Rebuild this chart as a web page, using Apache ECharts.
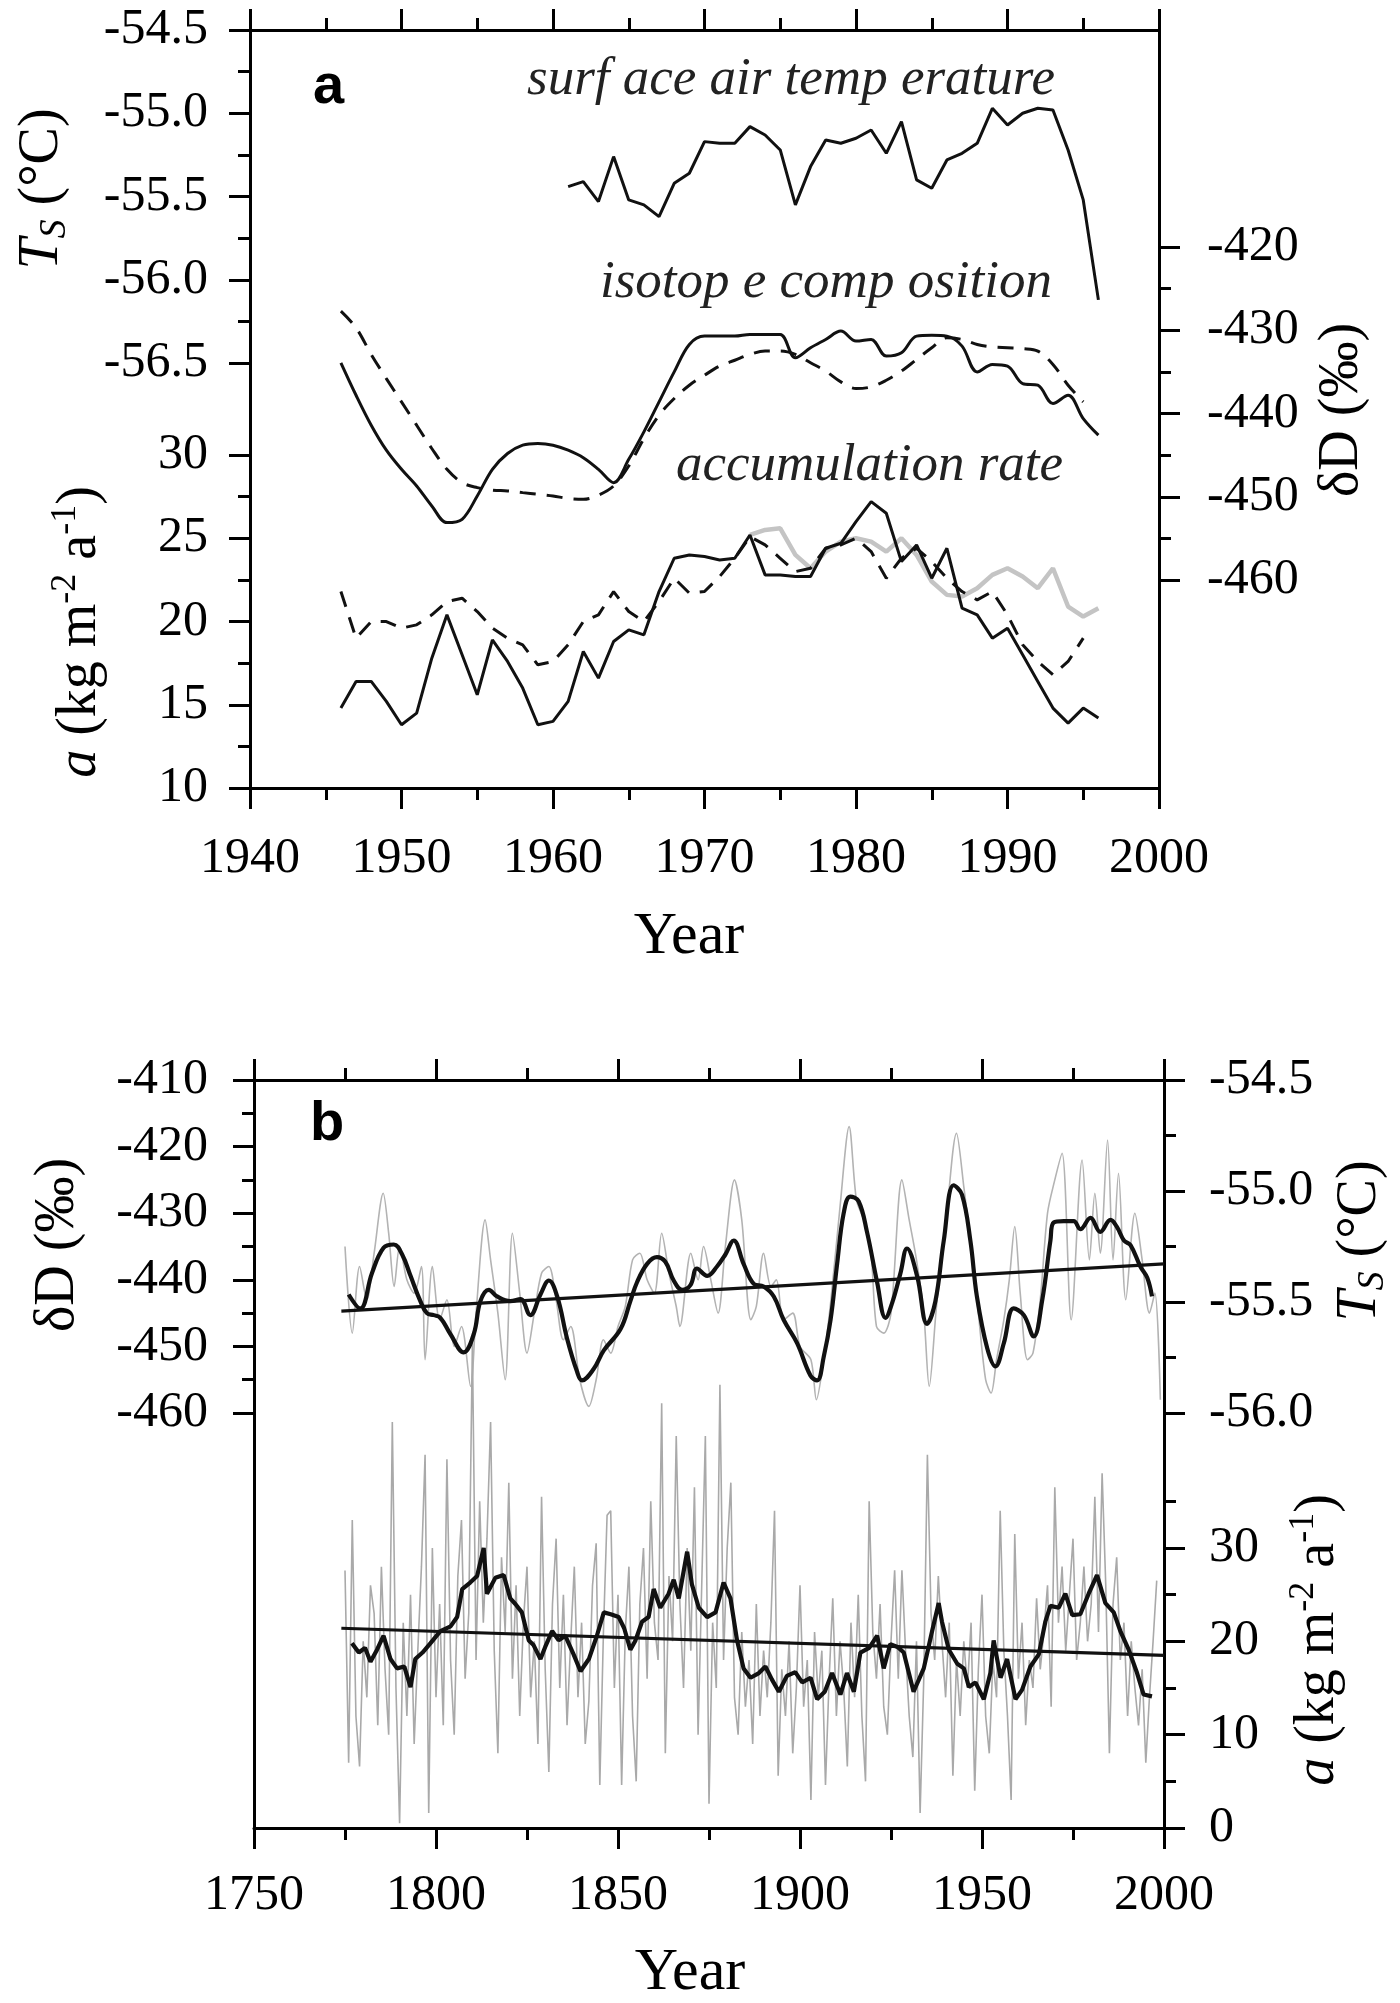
<!DOCTYPE html>
<html><head><meta charset="utf-8">
<script src="https://cdn.jsdelivr.net/npm/echarts@6/dist/echarts.min.js"></script>
<style>html,body{margin:0;padding:0;background:#fff}#c{width:1400px;height:2003px}</style>
</head><body><div id="c"></div>
<script>
// ---------- Panel a data ----------
const tsStartYear = 1961;
const tsValues = [-55.44,-55.41,-55.53,-55.26,-55.52,-55.55,-55.62,-55.42,-55.36,-55.17,-55.18,-55.18,-55.08,-55.13,-55.22,-55.55,-55.32,-55.16,-55.18,-55.15,-55.10,-55.24,-55.05,-55.40,-55.45,-55.28,-55.24,-55.18,-54.97,-55.07,-55.00,-54.97,-54.98,-55.22,-55.52,-56.12];
const isoStartYear = 1946;
const isoSolid = [-433.9,-437.8,-441.4,-444.4,-446.7,-448.7,-451.1,-453.1,-452.7,-449.9,-446.7,-444.8,-443.8,-443.6,-443.8,-444.4,-445.3,-446.7,-448.3,-445.5,-442.2,-438.6,-435.0,-431.7,-430.7,-430.7,-430.7,-430.5,-430.5,-430.5,-433.3,-432.1,-431.1,-430.1,-431.3,-431.1,-433.1,-432.7,-430.7,-430.6,-430.7,-431.9,-435.0,-434.1,-434.3,-436.4,-436.6,-438.8,-437.8,-440.6,-442.6];
const isoDashed = [-427.7,-429.7,-432.9,-435.8,-438.6,-441.4,-444.2,-446.7,-448.3,-448.9,-449.2,-449.3,-449.5,-449.7,-449.9,-450.2,-450.3,-449.8,-448.7,-446.3,-443.0,-440.2,-438.2,-436.6,-435.4,-434.3,-433.6,-432.9,-432.5,-432.5,-432.9,-433.9,-434.9,-436.2,-437.0,-436.8,-436.0,-434.9,-433.5,-432.1,-430.9,-431.1,-431.7,-432.0,-432.1,-432.2,-432.5,-434.1,-436.6,-438.6];
const accStartYear = 1946;
const accSolid = [14.8,16.4,16.4,15.2,13.8,14.5,17.8,20.4,18.0,15.6,18.9,17.6,16.0,13.8,14.0,15.2,18.2,16.6,18.8,19.5,19.2,21.8,23.8,24.0,23.9,23.7,23.8,25.2,22.8,22.8,22.7,22.7,24.4,24.7,26.0,27.2,26.5,23.6,24.6,22.6,24.4,20.8,20.4,19.0,19.6,18.0,16.4,14.8,13.9,14.8,14.2];
const accDashed = [21.8,19.0,20.0,20.0,19.6,19.8,20.4,21.2,21.4,20.6,19.6,19.0,18.6,17.4,17.6,18.6,20.0,20.4,21.8,20.6,20.0,21.2,22.6,21.7,21.8,22.7,23.8,25.1,24.6,23.8,23.0,23.2,24.4,24.6,25.0,24.2,22.6,23.8,24.4,23.6,22.6,21.8,21.3,21.8,20.4,18.6,17.6,16.8,17.6,19.0];
const accGreyStartYear = 1973;
const accGrey = [25.2,25.5,25.6,24.0,23.2,24.2,24.8,25.0,24.8,24.2,25.0,24.0,22.4,21.6,21.5,22.0,22.8,23.2,22.7,22.0,23.2,20.9,20.3,20.8];

// ---------- Panel b data ----------
const bDdAnnYears = [1775,1777,1779,1781,1783,1785.5,1787,1788.5,1790,1792,1794,1796,1797,1799,1801,1803,1805,1807,1809.5,1811,1813.5,1815,1817,1819,1821,1823,1825,1827,1829,1831,1833,1835,1837,1839.5,1842,1844,1846,1848,1850,1852,1854,1856,1858,1860,1862,1864,1866,1867,1870,1872,1873.5,1875.5,1877.5,1879.5,1882,1884,1886.5,1888,1890,1892,1893.5,1895.5,1898,1900,1903,1904.5,1906.5,1908.5,1911,1913.5,1915.5,1917.5,1919.5,1921,1923,1925,1928,1930,1932,1934,1935.5,1937.5,1940,1943,1945,1947,1949,1951,1952.5,1954,1956,1957.5,1959,1960.5,1962.5,1964,1966,1968,1970,1972,1974.5,1977.5,1979.5,1981,1982.5,1984.5,1986,1987.5,1989.5,1992,1994,1996,1997.5,1999];
const bDdAnnVals = [-435,-448,-438,-443,-436,-427,-433,-441,-435,-440,-442,-438,-452,-438,-446,-443,-450,-447,-456,-445,-431,-437,-445,-455,-433,-442,-451,-445,-439,-438,-443,-449,-447,-455,-459,-455,-449,-451,-447,-444,-437,-436,-440,-442,-433,-439,-444,-447,-436,-440,-435,-440,-445,-435,-425,-431,-446,-444,-436,-441,-440,-446,-445,-450,-452,-458,-452,-443,-429,-417,-428,-431,-436,-447,-448,-445,-425,-431,-437,-445,-456,-444,-432,-418,-426,-435,-445,-455,-457,-452,-446,-440,-432,-442,-452,-451,-443,-430,-425,-421,-446,-422,-437,-427,-436,-419,-437,-424,-443,-430,-437,-445,-442,-458];
const bDdSmoothYears = [1776,1779.2,1782.4,1785.6,1788.4,1790.7,1793,1795.7,1797.5,1799.4,1801.2,1803.9,1807.6,1810.4,1812.2,1814.5,1816.8,1820.4,1823.2,1825.9,1828.7,1831,1833.3,1836,1838.7,1840.1,1843.3,1846.1,1850.7,1853.4,1855.2,1858,1860.7,1863,1865.3,1867.6,1869.9,1871.7,1874.5,1877.2,1879.5,1881.8,1884.5,1887.3,1890,1892.8,1895.5,1899.2,1902.9,1904.7,1906.5,1908.4,1910.2,1912,1913.8,1916.1,1918.4,1921.2,1923.5,1925.3,1927.6,1929.4,1932.2,1934.9,1937.2,1939.5,1942.2,1944.5,1946.8,1948.6,1951.4,1953.7,1956,1958.7,1961.5,1964.2,1966.5,1968.8,1969.7,1972.5,1975.2,1977,1979.8,1982.5,1985.3,1987.1,1989,1990.8,1993.5,1995.4,1996.7];
const bDdSmoothVals = [-442.2,-444.3,-439.0,-435.2,-434.7,-436.2,-439.4,-443.2,-445.0,-445.3,-445.7,-448.1,-450.9,-448.1,-443.2,-441.5,-442.5,-443.2,-442.9,-445.3,-442.2,-440.1,-442.5,-448.8,-453.7,-455.1,-453.4,-450.6,-447.4,-443.2,-440.4,-437.6,-436.6,-437.3,-440.1,-441.5,-440.8,-438.3,-439.4,-438.0,-436.2,-434.1,-437.6,-440.6,-441.0,-442.5,-446.0,-449.5,-454.4,-455.1,-451.6,-446.0,-437.6,-430.0,-427.5,-428.2,-432.8,-440.4,-445.7,-443.5,-439.0,-435.3,-439.5,-446.6,-443.2,-434.1,-425.8,-427.2,-434.1,-442.5,-450.2,-453.0,-449.5,-444.3,-445.3,-448.5,-443.2,-434.1,-431.4,-431.2,-431.2,-432.4,-430.7,-432.8,-431.0,-432.1,-434.1,-434.8,-438.0,-439.7,-442.5];
const bDdTrendYears = [1774, 2000];
const bDdTrendVals = [-444.7, -437.6];

const bAccAnnStartYear = 1775;
const bAccAnnVals = [
 27.6,7,33,12,6.6,20,14,26,23,11,
 28,17,10,43.5,15,0.5,22,12,25,9,
 19,28,40,1.6,30,14,24,11,39.5,18,
 10,27,33,16,23,52,18,35,22,31,
 43.5,19,8,29,21,37,16,26,12,22,
 28,14,20,9,35.5,17,6,24,31,15,
 25,11,20,28,14,22,9,13.6,26,30.5,
 4.6,21,33.5,34,15,25,4.6,21,28,12,
 5,24,30,16,35,22,18,45.5,8,27,
 20,42,24,15,30,19,36.5,10,26,42,
 2.6,22,15,47.5,18,30,37,14,10,21,
 13,18,9,24,12,19,14,22,34,5.6,
 17,12,20,8,15,26,13,18,3,21,
 14,19,4.6,16,24.6,12,20,15,6.6,22,
 14,25,12,5,35,21,16,24,13,10,
 20,27.6,16,27.6,19,12,7.6,20,1.6,16,
 40,23,18,27,20,14,22,5.6,18,12,
 20,15,22,4,17,25,12,8,18,14,
 34,19,12,3,31.5,16,22,11,18,15,
 24.6,17,21,26,13,36.5,22,28,19,25,
 31,18,22,28,20,24,35.5,21,38,26,
 8,24,29,18,22,12,20,15,11,17,
 7,14,20,26.5];
const bAccSmoothYears = [1776.9,1778.8,1780.5,1782,1783.8,1785.6,1787.5,1789.3,1791.3,1793,1794.3,1796.3,1798.5,1801.2,1804,1805.8,1807.2,1809.4,1811.3,1813.1,1814,1816.3,1818.6,1820.4,1821.8,1823.6,1825.5,1826.8,1828.7,1830,1831.9,1833.7,1835.5,1837.8,1839.7,1842,1844.2,1846.1,1848,1850.2,1851.7,1853.4,1854.8,1856.6,1858.4,1859.8,1861.6,1863.9,1865.3,1866.7,1869,1870.3,1872.2,1874.5,1876.8,1879,1880.9,1882.7,1884.5,1886.4,1888.7,1890.5,1892.3,1894.2,1896.4,1898.7,1900.6,1902.9,1904.7,1906.8,1908.8,1911.1,1912.9,1914.8,1916.6,1919,1921.2,1923,1924.8,1926.8,1928.5,1931.2,1934,1936.3,1938.1,1939,1940.9,1943.2,1945,1946.4,1948.2,1950.5,1952.3,1953.2,1955.1,1956.9,1959.2,1961,1963.3,1965.6,1967.4,1968.8,1971.1,1972.9,1974.8,1977,1979.3,1981.6,1983.9,1986.2,1988,1990.3,1992.6,1994.4,1996.7];
const bAccSmoothVals = [19.8,18.8,19.3,17.8,19.1,20.6,18.1,17.1,17.3,15.1,18.1,18.8,19.8,21.1,21.6,22.6,25.6,26.3,27.0,30.0,25.1,26.8,27.1,24.6,24.0,23.1,20.1,19.6,18.1,19.4,21.1,20.1,20.6,18.6,16.8,18.1,20.6,23.1,22.9,22.6,21.4,19.1,20.1,22.1,22.6,25.6,23.6,25.1,26.6,24.6,29.6,26.1,23.6,22.6,23.1,26.3,24.6,20.1,17.1,16.1,16.6,17.3,15.9,14.6,16.3,16.7,15.6,16.1,13.8,14.6,16.6,14.3,16.6,14.6,18.8,19.3,20.6,17.1,19.7,19.4,18.8,14.6,17.1,21.1,24.1,22.1,19.1,17.6,17.1,15.1,15.6,13.8,16.6,20.1,16.1,18.1,13.8,14.8,17.3,18.6,22.1,23.8,23.6,25.1,22.8,22.9,25.1,27.1,24.1,23.1,21.1,19.1,16.6,14.3,14.1];
const bAccTrendYears = [1774, 2000];
const bAccTrendVals = [21.4, 18.5];

// ---------- Tick label values ----------
const aTsTicks = [-54.5,-55.0,-55.5,-56.0,-56.5];
const aTsMinor = [-54.75,-55.25,-55.75,-56.25];
const aAccTicks = [10,15,20,25,30];
const aAccMinor = [12.5,17.5,22.5,27.5];
const aDdTicks = [-420,-430,-440,-450,-460];
const aDdMinor = [-425,-435,-445,-455];
const bDdTicks = [-410,-420,-430,-440,-450,-460];
const bDdMinor = [-415,-425,-435,-445,-455];
const bTsTicks = [-54.5,-55.0,-55.5,-56.0];
const bTsMinor = [-54.75,-55.25,-55.75];
const bAccTicks = [0,10,20,30];
const bAccMinor = [5,15,25,35];

// ---------- helpers ----------
const serif = "'Liberation Serif','Times New Roman',serif";
const seq = (start, vals) => vals.map((v, i) => [start + i, v]);
const zip = (xs, ys) => xs.map((x, i) => [x, ys[i]]);
const LW = 3;
const lineStyleAxis = {color:'#000', width:LW};
const TICKFONT = 50;

function xAx(grid, pos, min, max, interval, showLabel, margin) {
  return {type:'value', gridIndex:grid, position:pos, min, max, interval,
    axisLine:{show:true, onZero:false, lineStyle:lineStyleAxis},
    axisTick:{show:true, length:21, lineStyle:{color:'#000', width:LW}},
    minorTick:{show:true, splitNumber:2, length:12, lineStyle:{color:'#000', width:LW}},
    splitLine:{show:false}, minorSplitLine:{show:false},
    axisLabel:{show:showLabel, formatter: v => String(v), fontFamily:serif, fontSize:TICKFONT, color:'#000', margin:margin}};
}
function yAx(grid, pos, min, max, ticks, tickLen, showLine, labels, fmt, margin) {
  return {type:'value', gridIndex:grid, position:pos, min, max,
    axisLine:{show:showLine, onZero:false, lineStyle:lineStyleAxis},
    axisTick:{show:true, customValues:ticks, length:tickLen, lineStyle:{color:'#000', width:LW}},
    axisLabel:{show:!!labels, customValues:labels || [], formatter:fmt,
      fontFamily:serif, fontSize:TICKFONT, color:'#000', margin:margin || 8},
    splitLine:{show:false}};
}
const f1 = v => Number(v).toFixed(1);
const f0 = v => String(Math.round(v));

function ln(xi, yi, data, color, width, extra) {
  return Object.assign({type:'line', xAxisIndex:xi, yAxisIndex:yi, data:data,
    symbol:'none', showSymbol:false, silent:true, animation:false,
    lineStyle:{color:color, width:width}}, extra || {});
}

const chart = echarts.init(document.getElementById('c'), null, {renderer:'canvas', width:1400, height:2003});

const richTs = {it:{fontFamily:serif, fontStyle:'italic', fontSize:56, fill:'#000', lineHeight:64}, sub:{fontFamily:serif, fontStyle:'italic', fontSize:38, fill:'#000', verticalAlign:'bottom', lineHeight:40}, n:{fontFamily:serif, fontSize:56, fill:'#000', lineHeight:64}};
const richAcc = {it:{fontFamily:serif, fontStyle:'italic', fontSize:56, fill:'#000', lineHeight:64}, sup:{fontFamily:serif, fontSize:36, fill:'#000', verticalAlign:'top', lineHeight:40}, n:{fontFamily:serif, fontSize:56, fill:'#000', lineHeight:64}};
const base = {fontFamily:serif, fontSize:56, fill:'#000', align:'center', verticalAlign:'middle', textAlign:'center', textVerticalAlign:'middle'};
const leftTxt = {align:'left', verticalAlign:'middle', textAlign:'left', textVerticalAlign:'middle'};

const option = {
  animation:false,
  backgroundColor:'#fff',
  grid:[
    {left:250, top:30, width:909, height:758},
    {left:254, top:1080, width:910, height:748}
  ],
  xAxis:[
    xAx(0,'bottom',1940,2000,10,true,46),
    xAx(0,'top',1940,2000,10,false,8),
    xAx(1,'bottom',1750,2000,50,true,43),
    xAx(1,'top',1750,2000,50,false,8)
  ],
  yAxis:[
    // panel a
    yAx(0,'left',-59.05,-54.5,aTsTicks,21,true,aTsTicks,f1,42),
    yAx(0,'left',10,55.53,aAccTicks,21,false,aAccTicks,f0,42),
    yAx(0,'left',-59.05,-54.5,aTsMinor,12,false,null),
    yAx(0,'left',10,55.53,aAccMinor,12,false,null),
    yAx(0,'right',-484.98,-393.93,aDdTicks,21,true,aDdTicks,f0,48),
    yAx(0,'right',-484.98,-393.93,aDdMinor,12,false,null),
    // panel b
    yAx(1,'left',-522.3,-410,bDdTicks,21,true,bDdTicks,f0,46),
    yAx(1,'left',-522.3,-410,bDdMinor,12,false,null),
    yAx(1,'right',-57.87,-54.5,bTsTicks,21,true,bTsTicks,f1,45),
    yAx(1,'right',-57.87,-54.5,bTsMinor,12,false,null),
    yAx(1,'right',0,80.14,bAccTicks,21,false,bAccTicks,f0,45),
    yAx(1,'right',0,80.14,bAccMinor,12,false,null)
  ],
  series:[
    // panel a
    ln(0,0,seq(tsStartYear,tsValues),'#111',3),
    ln(0,4,seq(isoStartYear,isoSolid),'#111',3,{smooth:0.35}),
    ln(0,4,seq(isoStartYear,isoDashed),'#111',3,{smooth:0.35, lineStyle:{color:'#111', width:3, type:[16,11]}}),
    ln(0,1,seq(accGreyStartYear,accGrey),'#c4c4c4',4.5,{z:1}),
    ln(0,1,seq(accStartYear,accDashed),'#111',3,{lineStyle:{color:'#111', width:3, type:[16,11]}}),
    ln(0,1,seq(accStartYear,accSolid),'#111',3),
    // panel b
    ln(2,6,zip(bDdAnnYears,bDdAnnVals),'#b3b3b3',1.6,{z:1, smooth:0.3}),
    ln(2,10,seq(bAccAnnStartYear,bAccAnnVals),'#a9a9a9',1.6,{z:1}),
    ln(2,6,zip(bDdSmoothYears,bDdSmoothVals),'#111',4.2,{smooth:0.4}),
    ln(2,10,zip(bAccSmoothYears,bAccSmoothVals),'#111',4.2),
    ln(2,6,zip(bDdTrendYears,bDdTrendVals),'#111',3.2),
    ln(2,10,zip(bAccTrendYears,bAccTrendVals),'#111',3.2)
  ],
  graphic:{elements:[
    {type:'text', x:313, y:88, style:Object.assign({text:'a', fontFamily:"'Liberation Sans',Arial,sans-serif", fontWeight:'bold', fontSize:56, fill:'#000'}, leftTxt)},
    {type:'text', x:310, y:1125, style:Object.assign({text:'b', fontFamily:"'Liberation Sans',Arial,sans-serif", fontWeight:'bold', fontSize:56, fill:'#000'}, leftTxt)},
    {type:'text', x:527, y:80, style:Object.assign({text:'surf ace air temp erature', fontFamily:serif, fontStyle:'italic', fontSize:53, fill:'#222'}, leftTxt)},
    {type:'text', x:600, y:283, style:Object.assign({text:'isotop e comp osition', fontFamily:serif, fontStyle:'italic', fontSize:53, fill:'#222'}, leftTxt)},
    {type:'text', x:676, y:466, style:Object.assign({text:'accumulation rate', fontFamily:serif, fontStyle:'italic', fontSize:53, fill:'#222'}, leftTxt)},
    {type:'text', x:689, y:937, style:Object.assign({}, base, {text:'Year', fontSize:60})},
    {type:'text', x:690, y:1973, style:Object.assign({}, base, {text:'Year', fontSize:60})},
    {type:'text', x:42, y:189, rotation:Math.PI/2, style:Object.assign({}, base, {text:'{it|T}{sub|S}{n| (°C)}', rich:richTs})},
    {type:'text', x:80, y:632, rotation:Math.PI/2, style:Object.assign({}, base, {text:'{it|a}{n| (kg m}{sup|-2}{n| a}{sup|-1}{n|)}', rich:richAcc})},
    {type:'text', x:1342, y:410, rotation:Math.PI/2, style:Object.assign({}, base, {text:'δD (‰)'})},
    {type:'text', x:58, y:1245, rotation:Math.PI/2, style:Object.assign({}, base, {text:'δD (‰)'})},
    {type:'text', x:1360, y:1241, rotation:Math.PI/2, style:Object.assign({}, base, {text:'{it|T}{sub|S}{n| (°C)}', rich:richTs})},
    {type:'text', x:1318, y:1640, rotation:Math.PI/2, style:Object.assign({}, base, {text:'{it|a}{n| (kg m}{sup|-2}{n| a}{sup|-1}{n|)}', rich:richAcc})}
  ]}
};
chart.setOption(option);
</script></body></html>
